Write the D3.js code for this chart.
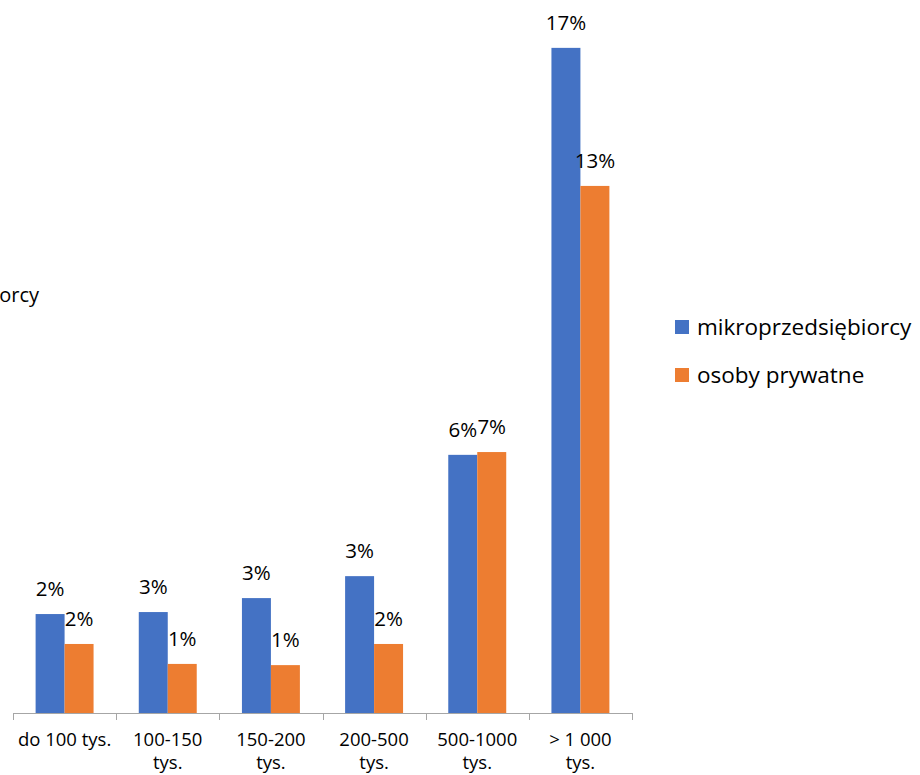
<!DOCTYPE html>
<html>
<head>
<meta charset="utf-8">
<script src="https://cdn.jsdelivr.net/npm/d3@7"></script>
<style>
  html, body { margin: 0; padding: 0; background: #fff; }
  svg { display: block; }
  text { font-family: "Open Sans", Lato, sans-serif; fill: #000; }
</style>
</head>
<body>
<script>
const categories = ["do 100 tys.", "100-150\ntys.", "150-200\ntys.", "200-500\ntys.", "500-1000\ntys.", "> 1 000\ntys."];
const seriesNames = ["mikroprzedsiębiorcy", "osoby prywatne"];
const mikroValues = [2.48, 2.53, 2.88, 3.43, 6.47, 16.67];
const prywatneValues = [1.73, 1.23, 1.20, 1.73, 6.54, 13.21];
const colors = ["#4472C4", "#ED7D31"];

const W = 920, H = 775;
const svg = d3.select("body").append("svg").attr("width", W).attr("height", H);

const baseY = 713;
const x0 = d3.scaleBand().domain(categories).range([13, 632]).padding(0);
const x1 = d3.scaleBand().domain(seriesNames).range([0, x0.bandwidth()]).paddingInner(0).paddingOuter(0.78);
const y = d3.scaleLinear().domain([0, 18]).range([baseY, baseY - 18 * 39.9]);

const seriesData = [mikroValues, prywatneValues];
const rows = categories.map((c, i) => ({ cat: c, vals: seriesNames.map((s, j) => ({ s, j, v: seriesData[j][i] })) }));

const g = svg.append("g");
const groups = g.selectAll("g.cat").data(rows).join("g").attr("class", "cat")
  .attr("transform", d => `translate(${x0(d.cat)},0)`);

groups.selectAll("rect").data(d => d.vals).join("rect")
  .attr("x", d => x1(d.s))
  .attr("width", x1.bandwidth())
  .attr("y", d => y(d.v))
  .attr("height", d => y(0) - y(d.v))
  .attr("fill", d => colors[d.j]);

groups.selectAll("text.lbl").data(d => d.vals).join("text").attr("class", "lbl")
  .attr("x", d => x1(d.s) + x1.bandwidth() / 2)
  .attr("y", d => y(d.v) - 18)
  .attr("text-anchor", "middle")
  .style("font-size", "20.5px")
  .text(d => Math.round(d.v) + "%");

// x axis
const axis = svg.append("g").attr("transform", `translate(0,${baseY})`);
axis.append("line").attr("x1", 13).attr("x2", 632).attr("y1", 0.5).attr("y2", 0.5)
  .attr("stroke", "#a6a6a6").attr("stroke-width", 1);
const tickXs = categories.map(c => x0(c)).concat([x0.range()[1]]);
axis.selectAll("line.tick").data(tickXs).join("line").attr("class", "tick")
  .attr("x1", d => Math.round(d) + 0.5).attr("x2", d => Math.round(d) + 0.5)
  .attr("y1", 0).attr("y2", 7).attr("stroke", "#a6a6a6");

const catLabels = svg.append("g").selectAll("text").data(categories).join("text")
  .attr("text-anchor", "middle")
  .attr("x", c => x0(c) + x0.bandwidth() / 2)
  .attr("y", 746)
  .style("font-size", "18.5px");
catLabels.each(function(c) {
  const lines = c.split("\n");
  const t = d3.select(this);
  lines.forEach((ln, k) => {
    t.append("tspan").attr("x", x0(c) + x0.bandwidth() / 2).attr("dy", k === 0 ? 0 : 23).text(ln);
  });
});

// legend
const legend = svg.append("g");
const legY = [327, 375];
seriesNames.forEach((s, j) => {
  legend.append("rect").attr("x", 675).attr("y", legY[j] - 7).attr("width", 14).attr("height", 14).attr("fill", colors[j]);
  legend.append("text").attr("x", 697).attr("y", legY[j] + 8).style("font-size", "22.5px").text(s);
});

// clipped text at left edge
svg.append("text").attr("x", 39).attr("y", 302).attr("text-anchor", "end").style("font-size", "20px").text(seriesNames[0]);
</script>
</body>
</html>
